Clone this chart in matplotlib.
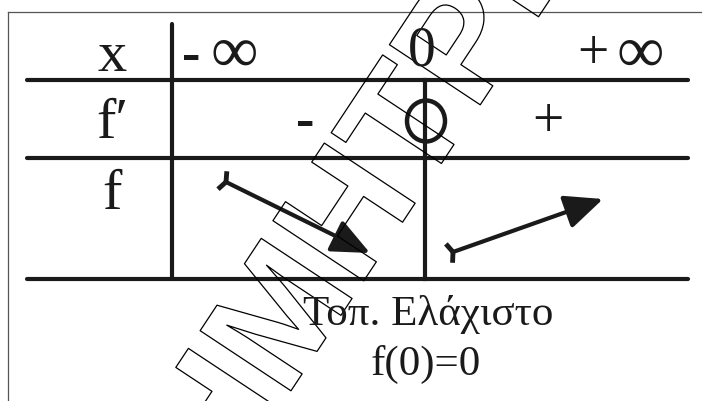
import matplotlib
matplotlib.use("Agg")
import matplotlib.pyplot as plt
import matplotlib.patheffects as pe
from matplotlib.patches import Ellipse, FancyArrowPatch, ArrowStyle
import numpy as np

# table contents
row_labels = ['x', 'f\u2032', 'f']
x_points = ['-', '0', '+']          # sign in front of infinity / the critical point
derivative_signs = ['-', '+']
trend = ['down', 'up']
extremum_label = 'Τοπ. Ελάχιστο'
extremum_value = 'f(0)=0'
watermark = 'ΔΗΜΗΤΡΗΣ'

serif = ['Liberation Serif', 'DejaVu Serif']
ink = '#1a1a1a'
lw_tab = 3.0

fig = plt.figure(figsize=(7.02, 4.01), dpi=100)
ax = fig.add_axes([0, 0, 1, 1])
ax.set_xlim(0, 702)
ax.set_ylim(401, 0)
ax.axis('off')

# outer thin frame (cut off at right / bottom)
ax.plot([8, 702], [12, 12], color='#555555', lw=0.9)
ax.plot([8, 8], [12, 401], color='#555555', lw=0.9)

# watermark, outlined letters
ax.text(370, 198, watermark, fontsize=114, family='Liberation Sans', weight='bold',
        rotation=56.5, ha='center', va='center', color=(1, 1, 1, 0),
        path_effects=[pe.Stroke(linewidth=0.9, foreground='black'), pe.Normal()])

# grid of the table
row_y = [80, 158, 279]
for y in row_y:
    ax.plot([27, 688], [y, y], color=ink, lw=lw_tab, solid_capstyle='round')
ax.plot([172, 172], [24, 279], color=ink, lw=lw_tab, solid_capstyle='round')
ax.plot([425, 425], [80, 279], color=ink, lw=lw_tab)

# row labels
label_y = [57, 124, 195]
for lab, y in zip(row_labels, label_y):
    ax.text(112, y, lab, fontsize=42, family=serif, ha='center', va='center', color=ink)

# x row
ax.text(191, 57, x_points[0], fontsize=40, family=serif, ha='center', va='center', color=ink, weight='bold')
ax.text(234, 55, '∞', fontsize=48, family=serif, ha='center', va='center', color=ink)
ax.text(422, 51, x_points[1], fontsize=40, family=serif, ha='center', va='center', color=ink)
ax.text(593, 55, x_points[2], fontsize=40, family=serif, ha='center', va='center', color=ink)
ax.text(640, 55, '∞', fontsize=48, family=serif, ha='center', va='center', color=ink)

# derivative row
ax.text(305, 123, derivative_signs[0], fontsize=40, family=serif, ha='center', va='center', color=ink, weight='bold')
ax.text(548, 123, derivative_signs[1], fontsize=40, family=serif, ha='center', va='center', color=ink)
ax.add_patch(Ellipse((426, 121), 38, 41, fill=False, ec=ink, lw=3.2))

# variation arrows
head = ArrowStyle('-|>', head_length=0.9, head_width=0.4)
arrow_ends = {'down': ((226, 182), (370, 253)), 'up': ((453, 252), (603, 199))}
for t in trend:
    (x0, y0), (x1, y1) = arrow_ends[t]
    ax.add_patch(FancyArrowPatch((x0, y0), (x1, y1), arrowstyle=head,
                                 mutation_scale=26, color=ink, lw=3.0,
                                 shrinkA=0, shrinkB=0))
    d = np.array([x1 - x0, y1 - y0], dtype=float)
    d /= np.hypot(*d)
    n = np.array([-d[1], d[0]])
    # forked tail
    for s in (-1, 1):
        ax.plot([x0, x0 + s * 10 * n[0] - 4 * d[0]], [y0, y0 + s * 10 * n[1] - 4 * d[1]],
                color=ink, lw=3.5, solid_capstyle='butt')

# extremum note
ax.text(428, 325, extremum_label, fontsize=31, family=serif, ha='center', va='baseline', color=ink)
ax.text(426, 375, extremum_value, fontsize=31, family=serif, ha='center', va='baseline', color=ink)

fig.savefig('out.png', dpi=100)
